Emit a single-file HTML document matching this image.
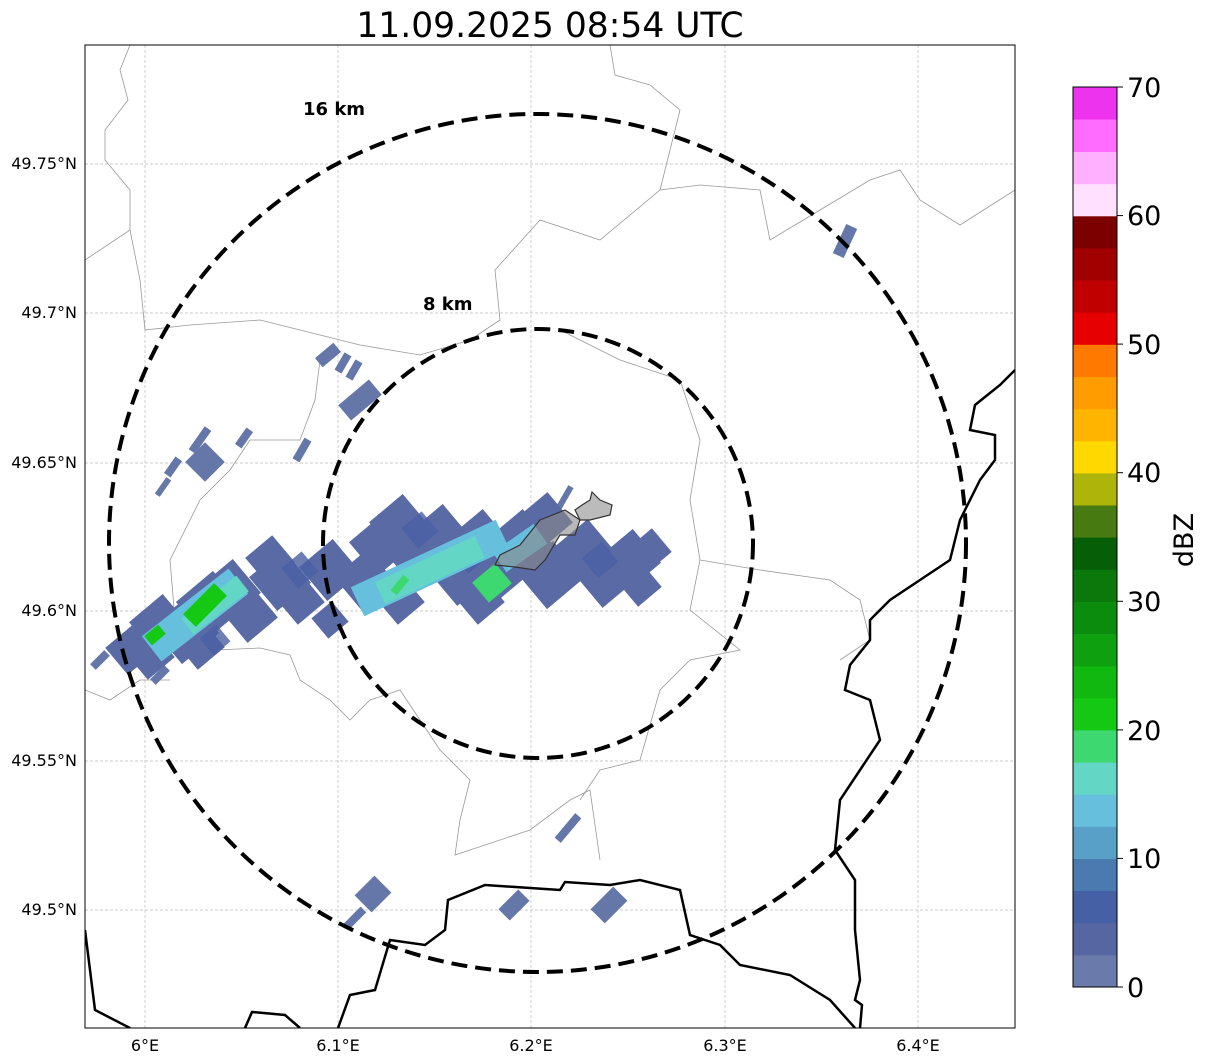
<!DOCTYPE html><html><head><style>body{margin:0;background:#fff}svg{display:block}text{font-family:"DejaVu Sans","Liberation Sans",sans-serif}</style></head><body>
<svg width="1207" height="1064" viewBox="0 0 1207 1064">
<text x="550" y="37" font-size="34.5" text-anchor="middle">11.09.2025 08:54 UTC</text>
<defs><clipPath id="c"><rect x="85" y="45" width="930" height="983"/></clipPath>
<rect id="s" x="-22" y="-22" width="44" height="44"/></defs>
<g clip-path="url(#c)">
<g stroke="#bbb" stroke-width="0.7" stroke-dasharray="3,2">
<line x1="145" y1="45" x2="145" y2="1028"/><line x1="338" y1="45" x2="338" y2="1028"/><line x1="531" y1="45" x2="531" y2="1028"/><line x1="725" y1="45" x2="725" y2="1028"/><line x1="918" y1="45" x2="918" y2="1028"/>
<line x1="85" y1="164" x2="1015" y2="164"/><line x1="85" y1="313" x2="1015" y2="313"/><line x1="85" y1="463" x2="1015" y2="463"/><line x1="85" y1="611" x2="1015" y2="611"/><line x1="85" y1="761" x2="1015" y2="761"/><line x1="85" y1="910" x2="1015" y2="910"/>
</g>
<g fill="none" stroke="#999" stroke-width="0.8">
<path d="M130 45 L120 70 L128 100 L105 130 L105 160 L130 190 L130 230 L85 260"/>
<path d="M130 230 L140 280 L145 330 L190 325 L260 320 L300 330 L360 345 L420 355 L470 340 L500 320 L495 270 L540 220 L600 240 L660 190 L700 185 L760 190 L770 240 L820 210 L870 180 L900 170 L920 200 L960 225 L1015 190"/>
<path d="M320 360 L315 400 L300 440 L250 440 L230 470 L200 500 L170 560 L175 620 L215 650 L260 648 L290 655 L300 680 L330 700 L350 720 L370 700 L400 690 L420 720 L440 750 L470 780 L460 820 L455 855 L530 830 L570 800 L590 790 L600 860"/>
<path d="M560 330 L620 360 L680 380 L700 440 L690 500 L700 560 L690 610 L740 650 L690 660 L660 690 L640 760 L600 770 L580 800"/>
<path d="M700 560 L760 570 L830 580 L860 600 L870 640 L840 660"/>
<path d="M610 45 L615 75 L650 85 L680 110 L670 150 L660 190"/>
<path d="M85 690 L110 700 L140 680 L170 680"/>
</g>
<g fill="none" stroke="#000" stroke-width="2.5">
<path d="M1015 370 L1000 385 L975 405 L970 430 L995 435 L995 460 L980 480 L960 520 L950 560 L920 580 L890 600 L870 620 L870 640 L850 665 L845 690 L870 700 L880 740 L860 770 L840 800 L835 850 L855 880 L855 930 L860 980 L855 1000 L862 1005 L860 1028"/>
<path d="M85 930 L95 1010 L130 1028"/>
<path d="M245 1028 L252 1012 L285 1015 L300 1028"/>
<path d="M338 1028 L350 995 L375 990 L390 940 L425 945 L445 930 L448 900 L485 885 L560 890 L565 882 L610 885 L640 880 L680 890 L690 935 L720 945 L740 965 L790 975 L830 1000 L855 1028"/>
</g>
<g fill="#6577a8">
<g transform="translate(360,400) rotate(-40)"><rect x="-20" y="-10" width="40" height="20"/></g>
<g transform="translate(328,355) rotate(-40)"><rect x="-12" y="-6" width="24" height="12"/></g>
<g transform="translate(343,363) rotate(-60)"><rect x="-10" y="-4" width="20" height="8"/></g>
<g transform="translate(354,370) rotate(-60)"><rect x="-10" y="-4" width="20" height="8"/></g>
<g transform="translate(205,462) rotate(-45)"><rect x="-14" y="-14" width="28" height="28"/></g>
<g transform="translate(200,440) rotate(-55)"><rect x="-14" y="-4" width="28" height="8"/></g>
<g transform="translate(173,467) rotate(-55)"><rect x="-10" y="-4" width="20" height="8"/></g>
<g transform="translate(163,487) rotate(-55)"><rect x="-10" y="-3" width="20" height="6"/></g>
<g transform="translate(244,438) rotate(-55)"><rect x="-10" y="-4" width="20" height="8"/></g>
<g transform="translate(302,450) rotate(-60)"><rect x="-12" y="-4" width="24" height="8"/></g>
<g transform="translate(845,241) rotate(-65)"><rect x="-16" y="-6" width="32" height="12"/></g>
<g transform="translate(568,828) rotate(-50)"><rect x="-16" y="-4" width="32" height="8"/></g>
<g transform="translate(373,894) rotate(-45)"><rect x="-14" y="-12" width="28" height="24"/></g>
<g transform="translate(355,918) rotate(-45)"><rect x="-12" y="-4" width="24" height="8"/></g>
<g transform="translate(514,905) rotate(-45)"><rect x="-14" y="-8" width="28" height="16"/></g>
<g transform="translate(609,905) rotate(-45)"><rect x="-16" y="-10" width="32" height="20"/></g>
<g transform="translate(565,497) rotate(-60)"><rect x="-12" y="-3" width="24" height="6"/></g>
<g transform="translate(100,660) rotate(-45)"><rect x="-10" y="-4" width="20" height="8"/></g>
<g transform="translate(160,675) rotate(-45)"><rect x="-10" y="-4" width="20" height="8"/></g>
</g>
<g fill="#5a6aa5">
<use href="#s" transform="translate(130,650) rotate(-40) scale(0.8)"/>
<use href="#s" transform="translate(160,625) rotate(-40)"/>
<use href="#s" transform="translate(150,655) rotate(-40) scale(0.8)"/>
<use href="#s" transform="translate(185,630) rotate(-40) scale(1.1)"/>
<use href="#s" transform="translate(210,605) rotate(-40) scale(1.1)"/>
<use href="#s" transform="translate(230,590) rotate(-40)"/>
<use href="#s" transform="translate(200,645) rotate(-40) scale(0.8)"/>
<use href="#s" transform="translate(250,615) rotate(-40) scale(0.9)"/>
<use href="#s" transform="translate(280,580) rotate(-40)"/>
<use href="#s" transform="translate(270,560) rotate(-40) scale(0.8)"/>
<use href="#s" transform="translate(300,600) rotate(-40) scale(0.8)"/>
<use href="#s" transform="translate(330,570) rotate(-40)"/>
<use href="#s" transform="translate(330,620) rotate(-40) scale(0.6)"/>
<use href="#s" transform="translate(365,580) rotate(-40)"/>
<use href="#s" transform="translate(380,545) rotate(-40)"/>
<use href="#s" transform="translate(400,525) rotate(-40)"/>
<use href="#s" transform="translate(400,600) rotate(-40) scale(0.8)"/>
<use href="#s" transform="translate(420,560) rotate(-40)"/>
<use href="#s" transform="translate(440,535) rotate(-40)"/>
<use href="#s" transform="translate(460,575) rotate(-40)"/>
<use href="#s" transform="translate(480,540) rotate(-40)"/>
<use href="#s" transform="translate(480,600) rotate(-40) scale(0.8)"/>
<use href="#s" transform="translate(500,570) rotate(-40)"/>
<use href="#s" transform="translate(520,540) rotate(-40)"/>
<use href="#s" transform="translate(545,520) rotate(-40) scale(0.9)"/>
<use href="#s" transform="translate(550,575) rotate(-40) scale(1.1)"/>
<use href="#s" transform="translate(585,550) rotate(-40)"/>
<use href="#s" transform="translate(605,580) rotate(-40) scale(0.9)"/>
<use href="#s" transform="translate(630,560) rotate(-40)"/>
<use href="#s" transform="translate(650,550) rotate(-40) scale(0.7)"/>
<use href="#s" transform="translate(640,585) rotate(-40) scale(0.7)"/>
</g>
<g fill="#4a60a5" opacity="0.8">
<use href="#s" transform="translate(300,570) rotate(-40) scale(0.6)"/>
<use href="#s" transform="translate(420,530) rotate(-40) scale(0.6)"/>
<use href="#s" transform="translate(470,555) rotate(-40) scale(0.6)"/>
<use href="#s" transform="translate(600,560) rotate(-40) scale(0.6)"/>
<use href="#s" transform="translate(215,640) rotate(-40) scale(0.5)"/>
</g>
<g fill="#66bfdd">
<g transform="translate(195,615) rotate(-38)"><rect x="-55" y="-16" width="110" height="32"/></g>
<g transform="translate(430,568) rotate(-25)"><rect x="-80" y="-16" width="160" height="32"/></g>
<g transform="translate(520,548) rotate(-35)"><rect x="-25" y="-12" width="50" height="24"/></g>
</g>
<g fill="#63d6c6">
<g transform="translate(215,605) rotate(-38)"><rect x="-35" y="-10" width="70" height="20"/></g>
<g transform="translate(430,570) rotate(-25)"><rect x="-55" y="-12" width="110" height="24"/></g>
</g>
<g fill="#3ed870"><g transform="translate(492,583) rotate(-40)"><rect x="-15" y="-13" width="30" height="26"/></g>
<g transform="translate(400,585) rotate(-50)"><rect x="-10" y="-4" width="20" height="8"/></g></g>
<g fill="#14c814">
<g transform="translate(205,605) rotate(-45)"><rect x="-22" y="-9" width="44" height="18"/></g>
<g transform="translate(155,635) rotate(-40)"><rect x="-9" y="-6" width="18" height="12"/></g>
</g>
<path d="M495 565 L500 555 L520 545 L540 520 L565 510 L580 520 L575 535 L560 535 L545 560 L535 570 L515 567 Z" fill="#888" fill-opacity="0.6" stroke="#333" stroke-width="1.2"/>
<path d="M575 510 L582 505 L590 500 L592 492 L600 500 L612 505 L610 515 L590 520 L580 520 Z" fill="#bbb" stroke="#333" stroke-width="1.2"/>
<g fill="none" stroke="#000" stroke-width="4" stroke-dasharray="16,8">
<ellipse cx="537.5" cy="543" rx="428.5" ry="429"/>
<ellipse cx="538" cy="543.5" rx="215" ry="214.5"/>
</g>
<text x="303" y="115" font-size="18" font-weight="bold">16 km</text>
<text x="423" y="310" font-size="18" font-weight="bold">8 km</text>
</g>
<rect x="85" y="45" width="930" height="983" fill="none" stroke="#000" stroke-width="1"/>
<g font-size="16" text-anchor="middle">
<text x="145" y="1051">6°E</text><text x="338" y="1051">6.1°E</text><text x="531" y="1051">6.2°E</text><text x="725" y="1051">6.3°E</text><text x="918" y="1051">6.4°E</text>
</g>
<g font-size="16" text-anchor="end">
<text x="77" y="169">49.75°N</text><text x="77" y="318">49.7°N</text><text x="77" y="468">49.65°N</text><text x="77" y="616">49.6°N</text><text x="77" y="766">49.55°N</text><text x="77" y="915">49.5°N</text>
</g>
<g>
<rect x="1073" y="954.9" width="44" height="32.6" fill="#6a7aaa"/>
<rect x="1073" y="922.8" width="44" height="32.6" fill="#5666a3"/>
<rect x="1073" y="890.6" width="44" height="32.6" fill="#4560a5"/>
<rect x="1073" y="858.5" width="44" height="32.6" fill="#4a7ab0"/>
<rect x="1073" y="826.4" width="44" height="32.6" fill="#58a0c8"/>
<rect x="1073" y="794.2" width="44" height="32.6" fill="#66bfdd"/>
<rect x="1073" y="762.1" width="44" height="32.6" fill="#63d6c6"/>
<rect x="1073" y="730" width="44" height="32.6" fill="#3ed870"/>
<rect x="1073" y="697.8" width="44" height="32.6" fill="#14c814"/>
<rect x="1073" y="665.7" width="44" height="32.6" fill="#10b810"/>
<rect x="1073" y="633.6" width="44" height="32.6" fill="#0ea00e"/>
<rect x="1073" y="601.4" width="44" height="32.6" fill="#0c8c0c"/>
<rect x="1073" y="569.3" width="44" height="32.6" fill="#0a780a"/>
<rect x="1073" y="537.2" width="44" height="32.6" fill="#065f06"/>
<rect x="1073" y="505" width="44" height="32.6" fill="#477a10"/>
<rect x="1073" y="472.9" width="44" height="32.6" fill="#adb40a"/>
<rect x="1073" y="440.8" width="44" height="32.6" fill="#ffd800"/>
<rect x="1073" y="408.6" width="44" height="32.6" fill="#ffb400"/>
<rect x="1073" y="376.5" width="44" height="32.6" fill="#ff9c00"/>
<rect x="1073" y="344.4" width="44" height="32.6" fill="#ff7800"/>
<rect x="1073" y="312.2" width="44" height="32.6" fill="#e60000"/>
<rect x="1073" y="280.1" width="44" height="32.6" fill="#c00000"/>
<rect x="1073" y="248" width="44" height="32.6" fill="#a00000"/>
<rect x="1073" y="215.8" width="44" height="32.6" fill="#7c0000"/>
<rect x="1073" y="183.7" width="44" height="32.6" fill="#ffe0ff"/>
<rect x="1073" y="151.6" width="44" height="32.6" fill="#ffb0ff"/>
<rect x="1073" y="119.4" width="44" height="32.6" fill="#ff6cff"/>
<rect x="1073" y="87" width="44" height="32.6" fill="#ee33ee"/>
<rect x="1073" y="87" width="44" height="900" fill="none" stroke="#000" stroke-width="1"/>
</g>
<g stroke="#000" stroke-width="1"><line x1="1117" y1="987" x2="1123" y2="987"/><line x1="1117" y1="858.4" x2="1123" y2="858.4"/><line x1="1117" y1="729.9" x2="1123" y2="729.9"/><line x1="1117" y1="601.3" x2="1123" y2="601.3"/><line x1="1117" y1="472.7" x2="1123" y2="472.7"/><line x1="1117" y1="344.1" x2="1123" y2="344.1"/><line x1="1117" y1="215.6" x2="1123" y2="215.6"/><line x1="1117" y1="87" x2="1123" y2="87"/></g>
<g font-size="27"><text x="1127" y="997">0</text><text x="1127" y="868">10</text><text x="1127" y="740">20</text><text x="1127" y="611">30</text><text x="1127" y="482">40</text><text x="1127" y="354">50</text><text x="1127" y="225">60</text><text x="1127" y="97">70</text></g>
<text transform="translate(1193,540) rotate(-90)" font-size="27" text-anchor="middle">dBZ</text>
</svg>
</body></html>
